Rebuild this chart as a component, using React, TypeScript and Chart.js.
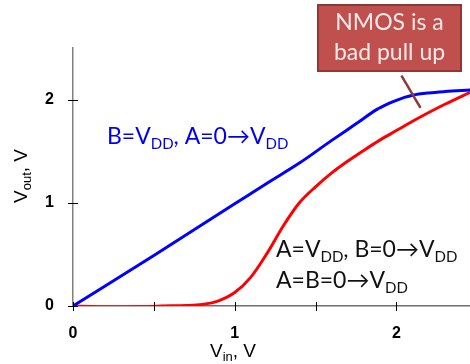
import React, { useEffect, useRef } from "react";
import { Chart, registerables } from "chart.js";

Chart.register(...registerables);

const VIN_BLUE = [0, 0.5, 1.0, 1.2, 1.4, 1.6, 1.75, 1.88, 1.95, 2.0, 2.05, 2.1, 2.2, 2.3, 2.455];
const VOUT_BLUE = [0, 0.49, 0.99, 1.19, 1.385, 1.605, 1.765, 1.905, 1.96, 1.993, 2.022, 2.043, 2.065, 2.078, 2.092];

const VIN_RED = [0, 0.1, 0.25, 0.4, 0.55, 0.7, 0.8, 0.9, 1.0, 1.1, 1.2, 1.3, 1.4, 1.5, 1.6, 1.7, 1.8, 1.9, 2.0, 2.1, 2.2, 2.3, 2.455];
const VOUT_RED = [0, -0.005, -0.01, -0.008, 0, 0.004, 0.015, 0.05, 0.13, 0.28, 0.51, 0.775, 1.0, 1.155, 1.29, 1.405, 1.51, 1.61, 1.7, 1.79, 1.875, 1.955, 2.07];

const X_TICKS = [0, 0.5, 1, 1.5, 2];
const X_LABELS = [0, 1, 2];
const Y_TICKS = [0, 1, 2];
const X_MAX = 2.455;
const Y_MAX = 2.5;

type Part = { t: string; sub?: boolean };

const BLUE_LABEL: Part[] = [
  { t: "B=V" }, { t: "DD", sub: true }, { t: ", A=0\u2192V" }, { t: "DD", sub: true },
];
const BLACK_LABEL_1: Part[] = [
  { t: "A=V" }, { t: "DD", sub: true }, { t: ", B=0\u2192V" }, { t: "DD", sub: true },
];
const BLACK_LABEL_2: Part[] = [{ t: "A=B=0\u2192V" }, { t: "DD", sub: true }];
const X_TITLE: Part[] = [{ t: "V" }, { t: "in", sub: true }, { t: ", V" }];
const Y_TITLE: Part[] = [{ t: "V" }, { t: "out", sub: true }, { t: ", V" }];
const CALLOUT_LINES = ["NMOS is a", "bad pull up"];

const LABEL_FONT = "Lato, 'Open Sans', sans-serif";
const AXIS_FONT = "'Liberation Sans', Arial, sans-serif";

function richWidth(ctx: CanvasRenderingContext2D, parts: Part[], size: number, family: string) {
  let w = 0;
  for (const p of parts) {
    ctx.font = `${p.sub ? Math.round(size * 0.66) : size}px ${family}`;
    w += ctx.measureText(p.t).width;
  }
  return w;
}

function drawRich(
  ctx: CanvasRenderingContext2D,
  parts: Part[],
  x: number,
  y: number,
  size: number,
  family: string,
  color: string
) {
  ctx.save();
  ctx.fillStyle = color;
  ctx.textBaseline = "alphabetic";
  ctx.textAlign = "left";
  let cx = x;
  for (const p of parts) {
    const s = p.sub ? Math.round(size * 0.66) : size;
    ctx.font = `${s}px ${family}`;
    ctx.fillText(p.t, cx, y + (p.sub ? size * 0.22 : 0));
    cx += ctx.measureText(p.t).width;
  }
  ctx.restore();
}

const decorPlugin = {
  id: "decor",
  afterDraw(chart: any) {
    const ctx: CanvasRenderingContext2D = chart.ctx;
    const xs = chart.scales.x;
    const ys = chart.scales.y;
    const ax = xs.getPixelForValue(0);
    const ay = ys.getPixelForValue(0);

    // tick marks crossing the axes
    ctx.save();
    ctx.strokeStyle = "#000";
    ctx.lineWidth = 1;
    for (const v of X_TICKS) {
      const px = Math.round(xs.getPixelForValue(v)) + 0.5;
      ctx.beginPath();
      ctx.moveTo(px, ay - 4);
      ctx.lineTo(px, ay + 5);
      ctx.stroke();
    }
    for (const v of Y_TICKS) {
      const py = Math.round(ys.getPixelForValue(v)) + 0.5;
      ctx.beginPath();
      ctx.moveTo(ax - 5, py);
      ctx.lineTo(ax + 5, py);
      ctx.stroke();
    }
    ctx.restore();

    // curve labels
    drawRich(ctx, BLUE_LABEL, 107, 144, 23, LABEL_FONT, "#0000ee");
    drawRich(ctx, BLACK_LABEL_1, 276, 257, 23, LABEL_FONT, "#111");
    drawRich(ctx, BLACK_LABEL_2, 276, 288, 23, LABEL_FONT, "#111");

    // callout
    ctx.save();
    ctx.fillStyle = "#c0504d";
    ctx.strokeStyle = "#8c3836";
    ctx.lineWidth = 2;
    ctx.fillRect(318, 5, 143, 66);
    ctx.strokeRect(318, 5, 143, 66);
    ctx.fillStyle = "#f7e9e8";
    ctx.font = `23px ${LABEL_FONT}`;
    ctx.textAlign = "center";
    ctx.textBaseline = "alphabetic";
    ctx.fillText(CALLOUT_LINES[0], 389.5, 30);
    ctx.fillText(CALLOUT_LINES[1], 389.5, 60);
    ctx.strokeStyle = "#8b3a38";
    ctx.lineWidth = 2.5;
    ctx.beginPath();
    ctx.moveTo(xs.getPixelForValue(2.031), ys.getPixelForValue(2.232));
    ctx.lineTo(xs.getPixelForValue(2.149), ys.getPixelForValue(1.92));
    ctx.stroke();
    ctx.restore();

    // axis titles
    const xw = richWidth(ctx, X_TITLE, 19, AXIS_FONT);
    drawRich(ctx, X_TITLE, 233 - xw / 2, 357, 19, AXIS_FONT, "#000");
    ctx.save();
    ctx.translate(27, 176);
    ctx.rotate(-Math.PI / 2);
    const yw = richWidth(ctx, Y_TITLE, 19, AXIS_FONT);
    drawRich(ctx, Y_TITLE, -yw / 2, 0, 19, AXIS_FONT, "#000");
    ctx.restore();
  },
};

export default function App() {
  const ref = useRef<HTMLCanvasElement>(null);
  useEffect(() => {
    if (!ref.current) return;
    const blue = VIN_BLUE.map((x, i) => ({ x, y: VOUT_BLUE[i] }));
    const red = VIN_RED.map((x, i) => ({ x, y: VOUT_RED[i] }));
    const chart = new Chart(ref.current, {
      type: "line",
      data: {
        datasets: [
          {
            data: blue,
            borderColor: "#0000ff",
            borderWidth: 3,
            pointRadius: 0,
            cubicInterpolationMode: "monotone",
          },
          {
            data: red,
            borderColor: "#ff0000",
            borderWidth: 3,
            pointRadius: 0,
            cubicInterpolationMode: "monotone",
          },
        ],
      },
      options: {
        animation: false,
        responsive: false,
        maintainAspectRatio: false,
        layout: { padding: { top: 48, left: 0, right: 0, bottom: 0 } },
        plugins: { legend: { display: false }, tooltip: { enabled: false } },
        scales: {
          x: {
            type: "linear",
            min: 0,
            max: X_MAX,
            afterBuildTicks: (s: any) => {
              s.ticks = X_TICKS.map((value) => ({ value }));
            },
            afterFit: (s: any) => {
              s.height = 58;
            },
            grid: { display: false, drawTicks: false, tickLength: 0 },
            border: { display: true, color: "#6e6e6e", width: 1.5 },
            ticks: {
              autoSkip: false,
              maxRotation: 0,
              padding: 18,
              color: "#000",
              font: { family: AXIS_FONT, size: 16, weight: "bold" },
              callback: (v: any) => (X_LABELS.includes(Number(v)) ? String(v) : ""),
            },
          },
          y: {
            type: "linear",
            min: 0,
            max: Y_MAX,
            afterBuildTicks: (s: any) => {
              s.ticks = Y_TICKS.map((value) => ({ value }));
            },
            afterFit: (s: any) => {
              s.width = 73;
            },
            grid: { display: false, drawTicks: false, tickLength: 0 },
            border: { display: true, color: "#808080", width: 1.5 },
            ticks: {
              padding: 19,
              color: "#000",
              font: { family: AXIS_FONT, size: 16, weight: "bold" },
              callback: (v: any) => String(v),
            },
          },
        },
      },
      plugins: [decorPlugin],
    });
    return () => chart.destroy();
  }, []);
  return (
    <div style={{ position: "absolute", left: 0, top: 0, width: 470, height: 364, background: "#fff" }}>
      <canvas ref={ref} width={470} height={364} style={{ width: 470, height: 364 }} />
    </div>
  );
}
